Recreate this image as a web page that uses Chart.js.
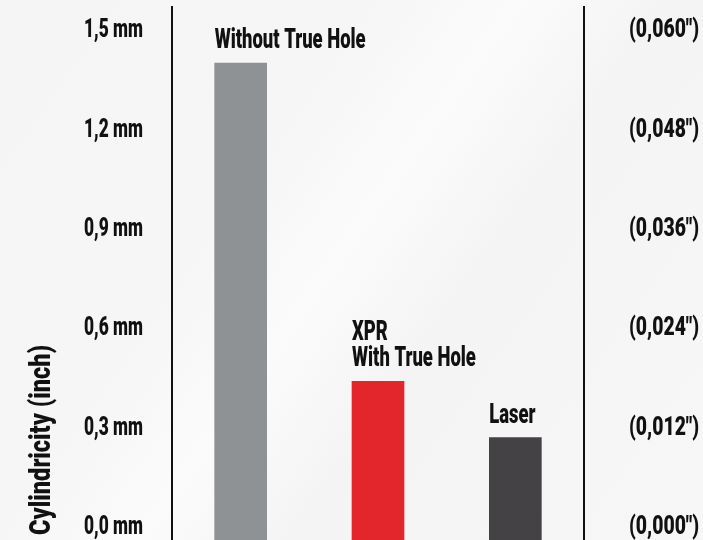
<!DOCTYPE html>
<html lang="en">
<head>
<meta charset="utf-8">
<title>Cylindricity</title>
<script src="https://cdn.jsdelivr.net/npm/chart.js@4.4.1/dist/chart.umd.min.js"></script>
<style>
  html, body { margin: 0; padding: 0; overflow: hidden; }
  body {
    width: 703px; height: 540px;
    background: linear-gradient(125deg, #f5f5f5 0%, #f6f6f6 35%, #fbfbfb 48%, #f4f4f4 62%, #f7f7f7 100%);
  }
  canvas { display: block; }
</style>
</head>
<body>
<canvas id="c" width="703" height="540"></canvas>
<script>
// data
var categories = ["Without True Hole", "XPR\nWith True Hole", "Laser"];
var values = [1.40, 0.44, 0.27];          // cylindricity, mm
var barColors = ["#8f9294", "#e3262b", "#444245"];
var tickValues = [0, 0.3, 0.6, 0.9, 1.2, 1.5];
var mmLabels = ["0,0 mm", "0,3 mm", "0,6 mm", "0,9 mm", "1,2 mm", "1,5 mm"];
var inchLabels = ['(0,000")', '(0,012")', '(0,024")', '(0,036")', '(0,048")', '(0,060")'];
var axisTitle = "Cylindricity (inch)";

var yMin = -0.039, yMax = 1.569;
var FONT = 'Roboto, "DejaVu Sans", sans-serif';

// the original uses a condensed face: squeeze text so a sample string gets the wanted width
function squeezeFor(ctx, font, sample, width) {
  ctx.font = font;
  return width / ctx.measureText(sample).width;
}

function squeezed(ctx, text, x, y, align, sx) {
  ctx.save();
  ctx.translate(x, y);
  ctx.scale(sx, 1);
  ctx.textAlign = align;
  ctx.fillText(text, 0, 0);
  ctx.restore();
}

var textLayer = {
  id: 'textLayer',
  afterDraw: function(chart) {
    var ctx = chart.ctx;
    var y = chart.scales.y, area = chart.chartArea;
    ctx.save();
    ctx.fillStyle = '#111';

    var tickFont = '900 25px ' + FONT;
    var sxL = squeezeFor(ctx, tickFont, mmLabels[5], 59);
    var sxR = squeezeFor(ctx, tickFont, inchLabels[5], 70);
    ctx.font = tickFont;
    ctx.textBaseline = 'middle';
    tickValues.forEach(function(v, i) {
      var py = y.getPixelForValue(v) + 1;
      squeezed(ctx, mmLabels[i], area.left - 29, py, 'right', sxL);
      squeezed(ctx, inchLabels[i], area.right + 45, py, 'left', sxR);
    });

    // bar captions
    var capFont = '900 27px ' + FONT;
    var sxC = squeezeFor(ctx, capFont, categories[0], 151);
    ctx.font = capFont;
    ctx.textBaseline = 'alphabetic';
    var meta = chart.getDatasetMeta(0);
    meta.data.forEach(function(bar, i) {
      var lines = categories[i].split('\n');
      var left = bar.x - bar.width / 2;
      var base = bar.y - 15;
      for (var k = lines.length - 1; k >= 0; k--) {
        squeezed(ctx, lines[k], left, base, 'left', sxC);
        base -= 26;
      }
    });

    // rotated axis title, bottom aligned
    var titleFont = '900 29px ' + FONT;
    var sxT = squeezeFor(ctx, titleFont, axisTitle, 190);
    ctx.font = titleFont;
    ctx.translate(50, area.bottom - 5);
    ctx.rotate(-Math.PI / 2);
    squeezed(ctx, axisTitle, 0, 0, 'left', sxT);
    ctx.restore();
  }
};

function fixTicks(scale) {
  scale.ticks = tickValues.map(function(v) { return { value: v }; });
}

var ctx = document.getElementById("c").getContext("2d");
var chart = new Chart(ctx, {
  type: 'bar',
  data: {
    labels: categories,
    datasets: [{
      data: values,
      backgroundColor: barColors,
      borderWidth: 0,
      barThickness: 52,
      base: yMin
    }]
  },
  options: {
    responsive: false,
    animation: false,
    layout: { padding: { top: 7, left: 0, right: 0, bottom: 0 } },
    plugins: { legend: { display: false }, tooltip: { enabled: false } },
    scales: {
      x: { display: false },
      y: {
        position: 'left',
        min: yMin, max: yMax,
        afterBuildTicks: fixTicks,
        afterFit: function(s) { s.width = 172; s.paddingTop = 0; s.paddingBottom = 0; },
        grid: { display: false, drawTicks: false },
        border: { display: true, color: '#111', width: 2 },
        ticks: { display: false }
      },
      y2: {
        position: 'right',
        min: yMin, max: yMax,
        afterBuildTicks: fixTicks,
        afterFit: function(s) { s.width = 119; s.paddingTop = 0; s.paddingBottom = 0; },
        grid: { display: false, drawTicks: false },
        border: { display: true, color: '#111', width: 2 },
        ticks: { display: false }
      }
    }
  },
  plugins: [textLayer]
});
</script>
</body>
</html>
